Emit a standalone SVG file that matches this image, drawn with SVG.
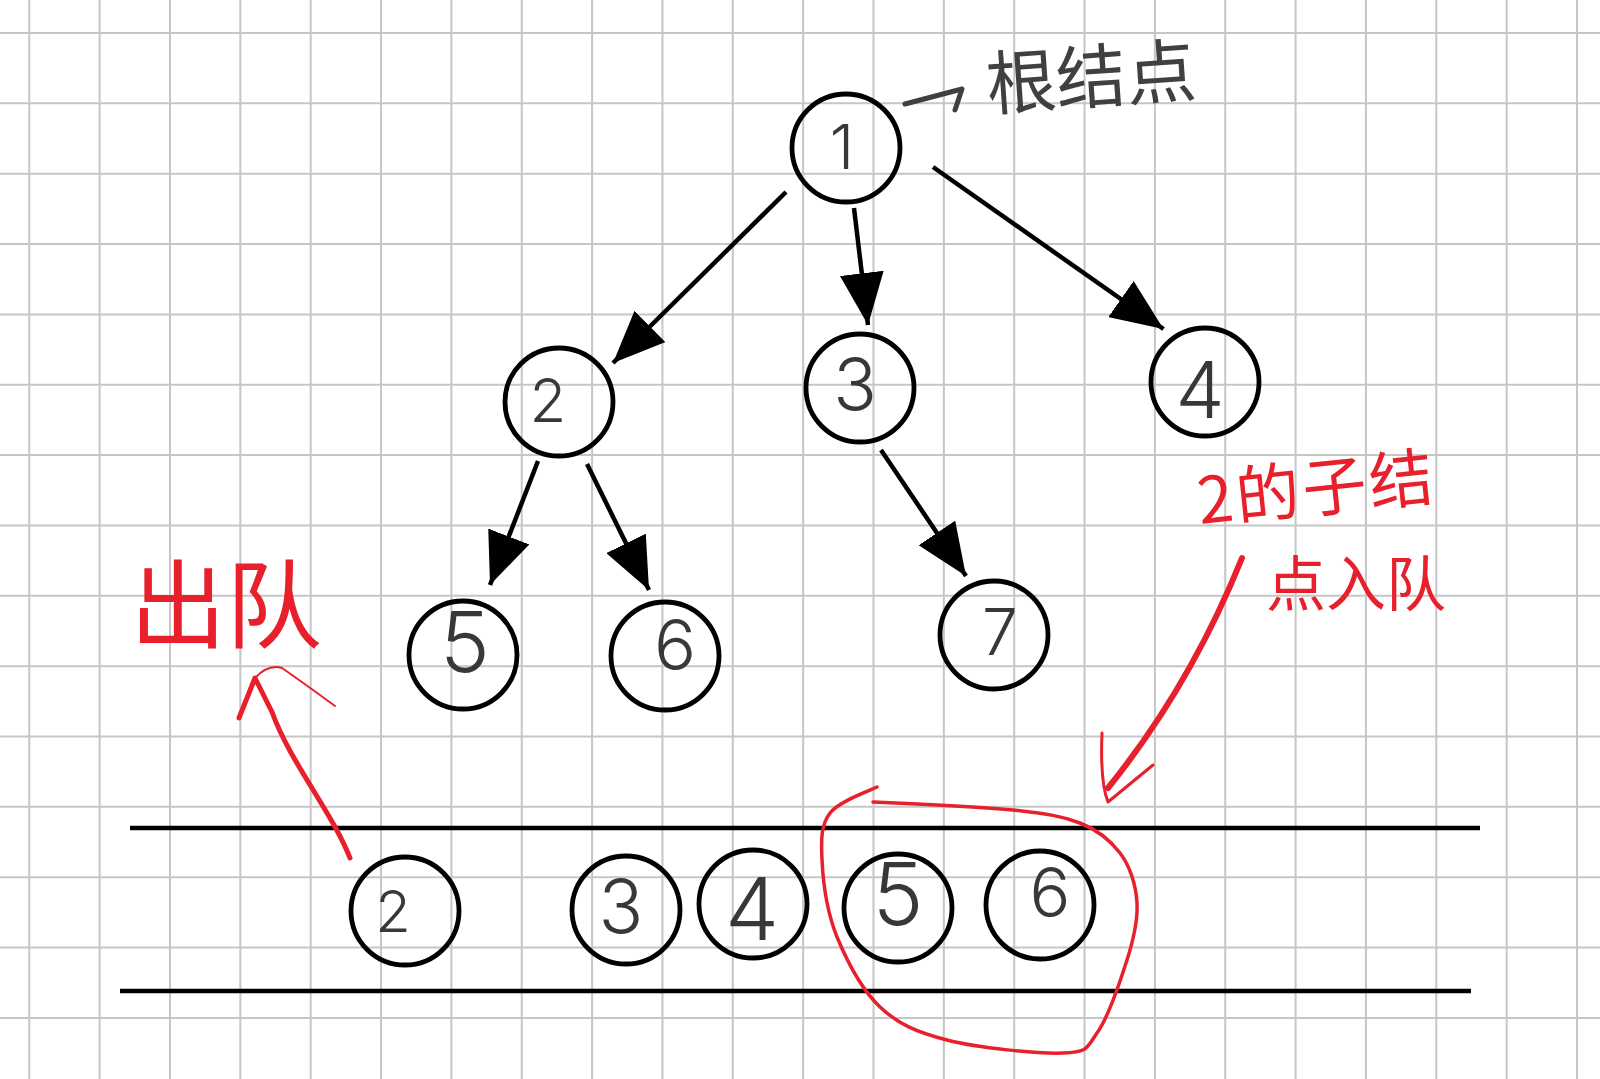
<svg xmlns="http://www.w3.org/2000/svg" width="1600" height="1079" viewBox="0 0 1600 1079">
<style>
.grid{stroke:#c6c6c6;stroke-width:2;fill:none}
.node{fill:none;stroke:#000;stroke-width:4.8}
.d{font-family:Inter,"Liberation Sans",Arial,sans-serif;font-weight:300;fill:#383838;text-anchor:middle}
.edge{stroke:#000;stroke-width:4.5;fill:none;marker-end:url(#ah)}
.qline{stroke:#000;stroke-width:4.5}
.red{fill:none;stroke:#e8202c;stroke-linecap:round;stroke-linejoin:round}
.rtxt{font-family:"Noto Sans CJK SC","Noto Sans CJK JP",sans-serif;fill:#e8202c}
.gtxt{font-family:"Noto Sans CJK SC","Noto Sans CJK JP",sans-serif;fill:#404040}
</style>
<defs>
<marker id="ah" markerUnits="userSpaceOnUse" markerWidth="54" markerHeight="44" refX="52" refY="22" orient="auto">
<path d="M0,0 L52,22 L0,44 z" fill="#000"/>
</marker>
</defs>
<rect width="1600" height="1079" fill="#fff"/>
<g id="grid">
<path class="grid" d="M29.3,0V1079M99.65,0V1079M170,0V1079M240.35,0V1079M310.7,0V1079M381.05,0V1079M451.4,0V1079M521.75,0V1079M592.1,0V1079M662.45,0V1079M732.8,0V1079M803.15,0V1079M873.5,0V1079M943.85,0V1079M1014.2,0V1079M1084.55,0V1079M1154.9,0V1079M1225.25,0V1079M1295.6,0V1079M1365.95,0V1079M1436.3,0V1079M1506.65,0V1079M1577,0V1079M0,33H1600M0,103.35H1600M0,173.7H1600M0,244.05H1600M0,314.4H1600M0,384.75H1600M0,455.1H1600M0,525.45H1600M0,595.8H1600M0,666.15H1600M0,736.5H1600M0,806.85H1600M0,877.2H1600M0,947.55H1600M0,1017.9H1600"/>
</g>
<g id="connectors">
<line class="edge" x1="786" y1="192" x2="613" y2="363"/>
<line class="edge" x1="854" y1="208" x2="868" y2="325"/>
<line class="edge" x1="933" y1="167" x2="1163.5" y2="329"/>
<line class="edge" x1="538" y1="461" x2="490" y2="585"/>
<line class="edge" x1="587" y1="464" x2="649" y2="590"/>
<line class="edge" x1="881" y1="450" x2="966" y2="576"/>
</g>
<g id="n1"><circle class="node" cx="846" cy="148" r="54"/><text class="d" x="842" y="169" font-size="62">1</text></g>
<g id="n2"><circle class="node" cx="559" cy="402" r="54"/><text class="d" x="548" y="422" font-size="60">2</text></g>
<g id="n3"><circle class="node" cx="860" cy="388" r="54"/><text class="d" x="855" y="410" font-size="72">3</text></g>
<g id="n4"><circle class="node" cx="1205" cy="382" r="54"/><text class="d" x="1200" y="418" font-size="78">4</text></g>
<g id="n5"><circle class="node" cx="463" cy="655" r="54"/><text class="d" x="465" y="672" font-size="84">5</text></g>
<g id="n6"><circle class="node" cx="665" cy="656" r="54"/><text class="d" x="675" y="670" font-size="70">6</text></g>
<g id="n7"><circle class="node" cx="994" cy="635" r="54"/><text class="d" x="1000" y="655" font-size="64">7</text></g>
<g id="queue">
<line class="qline" x1="130" y1="828" x2="1480" y2="828"/>
<line class="qline" x1="120" y1="991" x2="1471" y2="991"/>
</g>
<g id="q2"><circle class="node" cx="405" cy="911" r="54"/><text class="d" x="393" y="932" font-size="58">2</text></g>
<g id="q3"><circle class="node" cx="626" cy="910" r="54"/><text class="d" x="621" y="933" font-size="74">3</text></g>
<g id="q4"><circle class="node" cx="753" cy="904" r="54"/><text class="d" x="752" y="940" font-size="86">4</text></g>
<g id="q5"><circle class="node" cx="898" cy="908" r="54"/><text class="d" x="898" y="925" font-size="86">5</text></g>
<g id="q6"><circle class="node" cx="1040" cy="905" r="54"/><text class="d" x="1050" y="917" font-size="68">6</text></g>
<g id="root-label">
<path d="M905,104 L962,89 L955,110" fill="none" stroke="#404040" stroke-width="5" stroke-linecap="round" stroke-linejoin="round"/>
<text class="gtxt" x="988" y="110" font-size="70" transform="rotate(-4 988 110)">根结点</text>
</g>
<g id="dequeue-label">
<text class="rtxt" x="130" y="640" font-size="96">出队</text>
<path class="red" stroke-width="5" d="M350,858 C332,812 290,762 272,712 L255,678 L239,718"/>
<path class="red" stroke-width="2" d="M255,678 Q268,664 282,668 Q305,684 335,706"/>
</g>
<g id="enqueue-label">
<text class="rtxt" x="1200" y="524" font-size="64" letter-spacing="3" transform="rotate(-6 1200 524)">2的子结</text>
<text class="rtxt" x="1266" y="606" font-size="60">点入队</text>
<path class="red" stroke-width="6" d="M1242,558 C1215,625 1175,705 1108,788"/>
<path class="red" stroke-width="3" d="M1102,733 Q1100,782 1108,802 L1153,765"/>
<path class="red" stroke-width="3.5" d="M877,787 C869,791 839,801 830,813 C821,825 821,839 822,860 C823,881 827,912 837,937 C847,961 862,990 880,1007 C898,1024 916,1032 947,1040 C978,1048 1038,1054 1063,1053 C1088,1052 1086,1049 1097,1033 C1108,1018 1120,982 1127,960 C1134,938 1138,921 1137,903 C1136,885 1130,866 1120,853 C1110,840 1098,830 1080,823 C1062,816 1048,814 1013,810 C978,807 896,803 873,802"/>
</g>
</svg>
